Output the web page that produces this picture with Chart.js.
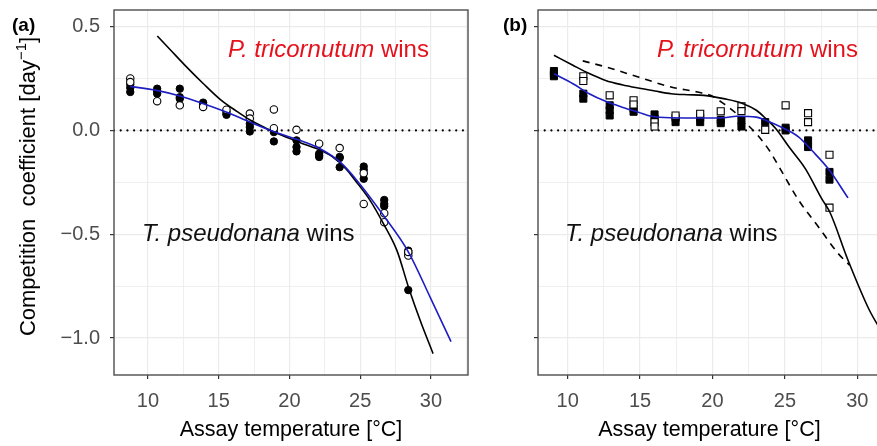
<!DOCTYPE html>
<html><head><meta charset="utf-8">
<script src="https://cdn.jsdelivr.net/npm/chart.js@4.4.0/dist/chart.umd.min.js"></script>
<style>
html,body{margin:0;padding:0;width:877px;height:446px;overflow:hidden;background:#fff;}
#wa{position:absolute;left:0;top:0;width:480px;height:446px;}
#wb{position:absolute;left:480px;top:0;width:407px;height:446px;}
</style></head><body>
<div id="wa"><canvas id="ca"></canvas></div>
<div id="wb"><canvas id="cb"></canvas></div>
<script>
// ---------- Panel (a) data ----------
const tempsA = [8.75, 10.65, 12.25, 13.9, 15.55, 17.2, 18.9, 20.5, 22.1, 23.55, 25.25, 26.7, 28.4];
const filledA = [[0.221,0.185,0.205],[0.201,0.177,0.19],[0.201,0.153,0.16],[0.134,0.125],[0.081,0.09,0.075],
  [0.032,0.016,-0.005],[-0.008,-0.053],[-0.048,-0.08,-0.101],[-0.112,-0.128,-0.12],[-0.128,-0.133,-0.177],
  [-0.174,-0.233,-0.19],[-0.335,-0.354,-0.365],[-0.579,-0.769,-0.59]];
const openA = [[0.25,0.233],[0.141],[0.121],[0.113],[0.1],[0.081,0.057],[0.101,0.011],[0.003],[-0.064],[-0.085],
  [-0.206,-0.354],[-0.399,-0.442],[-0.603,-0.585]];
const blackA_T = [10.66, 11.56, 12.74, 13.92, 15.1, 16.28, 17.22, 18.3, 19.5, 20.8, 22.0, 23.0, 24.0, 24.65, 25.71, 26.65, 27.6, 28.42, 29.25, 30.15];
const blackA_V = [0.455, 0.39, 0.305, 0.225, 0.15, 0.092, 0.05, 0.012, -0.025, -0.06, -0.09, -0.125, -0.185, -0.241, -0.338, -0.45, -0.579, -0.756, -0.917, -1.075];
const blueA_T = [8.73, 10.6, 12.26, 13.92, 15.57, 17.22, 18.87, 20.52, 22.17, 23.59, 24.77, 26.65, 28.42, 29.95, 31.42];
const blueA_V = [0.212, 0.193, 0.166, 0.129, 0.088, 0.04, -0.005, -0.043, -0.088, -0.153, -0.241, -0.41, -0.587, -0.804, -1.017];

// ---------- Panel (b) data ----------
const tempsB = [9.05, 11.08, 12.9, 14.55, 16.0, 17.45, 19.15, 20.57, 22.0, 23.64, 25.05, 26.6, 28.08];
const filledB = [[0.286,0.273,0.261],[0.177,0.153],[0.121,0.097,0.072],[0.105,0.09],[0.077,0.056],[0.061,0.04],
  [0.061,0.04],[0.05,0.035],[0.048,0.019],[0.04],[0.013,0.0],[-0.048,-0.08],[-0.2,-0.237]];
const openB = [[],[0.261,0.238],[0.169],[0.145,0.125],[0.04,0.019],[0.072],[0.08],[0.092],[0.116,0.093],[0.003],
  [0.121],[0.083,0.04],[-0.117,-0.372]];
const blackB_T = [9.05, 10.36, 11.49, 12.62, 13.75, 14.88, 16.02, 17.14, 18.28, 19.41, 20.77, 22.12, 23.03, 23.7, 24.38, 25.29, 26.42, 27.55, 28.1, 29.36, 30.83, 31.6];
const blackB_V = [0.362, 0.314, 0.274, 0.241, 0.22, 0.204, 0.19, 0.177, 0.172, 0.169, 0.153, 0.129, 0.097, 0.056, 0.008, -0.08, -0.185, -0.33, -0.393, -0.625, -0.865, -0.96];
const dashedB_T = [11.04, 12.62, 14.88, 17.14, 18.96, 19.86, 20.77, 21.67, 22.35, 23.03, 23.93, 24.61, 25.96, 27.32, 28.68, 29.47];
const dashedB_V = [0.335, 0.306, 0.257, 0.209, 0.185, 0.169, 0.129, 0.08, 0.032, -0.016, -0.097, -0.177, -0.337, -0.465, -0.593, -0.649];
const blueB_T = [9.05, 10.36, 11.49, 12.62, 13.75, 14.88, 15.79, 17.14, 19.41, 20.77, 21.67, 23.03, 23.7, 24.84, 25.96, 26.87, 28.0, 29.36];
const blueB_V = [0.273, 0.225, 0.177, 0.14, 0.112, 0.088, 0.068, 0.061, 0.06, 0.061, 0.068, 0.064, 0.048, 0.013, -0.032, -0.097, -0.185, -0.325];

// ---------- Axes ----------
const xTickValues = [7.5, 10, 12.5, 15, 17.5, 20, 22.5, 25, 27.5, 30, 32.5];
const yTickValues = [-1.0, -0.75, -0.5, -0.25, 0, 0.25, 0.5];
const xMajor = [10, 15, 20, 25, 30];
const yMajor = [-1.0, -0.5, 0, 0.5];
const xTitle = 'Assay temperature [°C]';
const yTitleMain = 'Competition  coefficient [day';
const yTitleSup = '\u22121';
const winP = ['P. tricornutum', ' wins'];
const winT = ['T. pseudonana', ' wins'];

const FONT = "'Liberation Sans', Arial, sans-serif";
const BLUE = '#1d1dc4';
const RED = '#e5121c';

function pts(temps, groups) {
  const out = [];
  temps.forEach((t, i) => groups[i].forEach(v => out.push({x: t, y: v})));
  return out;
}
function line(ts, vs) { return ts.map((t, i) => ({x: t, y: vs[i]})); }
function isMaj(arr, v) { return arr.some(m => Math.abs(m - v) < 1e-6); }

function drawItalicPair(ctx, pair, x, y, size, color) {
  ctx.save();
  ctx.fillStyle = color;
  ctx.textBaseline = 'alphabetic';
  ctx.textAlign = 'left';
  ctx.font = 'italic ' + size + 'px ' + FONT;
  ctx.fillText(pair[0], x, y);
  const w = ctx.measureText(pair[0]).width;
  ctx.font = size + 'px ' + FONT;
  ctx.fillText(pair[1], x + w, y);
  ctx.restore();
}

function makeChart(id, o) {
  const deco = {
    id: 'deco',
    afterDatasetsDraw(chart) {
      const a = chart.chartArea, ctx = chart.ctx;
      ctx.save();
      ctx.strokeStyle = '#4d4d4d';
      ctx.lineWidth = 1.4;
      ctx.strokeRect(a.left, a.top, a.right - a.left, a.bottom - a.top);
      ctx.restore();
    },
    afterDraw(chart) {
      const ctx = chart.ctx, a = chart.chartArea;
      ctx.save();
      ctx.fillStyle = '#000';
      ctx.font = '21.5px ' + FONT;
      ctx.textAlign = 'center';
      ctx.textBaseline = 'alphabetic';
      ctx.fillText(xTitle, (a.left + a.right) / 2, 436);
      ctx.font = 'bold 19px ' + FONT;
      ctx.textAlign = 'left';
      ctx.fillText(o.letter, o.letterX, 31);
      ctx.restore();
      drawItalicPair(ctx, winP, o.pX, 57, 24, RED);
      drawItalicPair(ctx, winT, o.tX, 241, 24, '#111');
      if (o.yTitle) {
        ctx.save();
        ctx.translate(35, 186.5);
        ctx.rotate(-Math.PI / 2);
        ctx.fillStyle = '#000';
        ctx.textBaseline = 'alphabetic';
        ctx.textAlign = 'left';
        const f1 = '22px ' + FONT, f2 = '15px ' + FONT;
        ctx.font = f1;
        const w1 = ctx.measureText(yTitleMain).width;
        const w3 = ctx.measureText(']').width;
        ctx.font = f2;
        const w2 = ctx.measureText(yTitleSup).width;
        const tot = w1 + w2 + w3;
        let x = -tot / 2;
        ctx.font = f1; ctx.fillText(yTitleMain, x, 0); x += w1;
        ctx.font = f2; ctx.fillText(yTitleSup, x, -9); x += w2;
        ctx.font = f1; ctx.fillText(']', x, 0);
        ctx.restore();
      }
    }
  };
  const shape = o.shape;
  const r = shape === 'rect' ? 5 : 3.7;
  const datasets = [
    {data: line(o.blueT, o.blueV), showLine: true, borderColor: BLUE, borderWidth: 1.6, pointRadius: 0,
     cubicInterpolationMode: 'monotone', order: 0},
    {data: line(o.blackT, o.blackV), showLine: true, borderColor: '#000', borderWidth: 1.6, pointRadius: 0,
     cubicInterpolationMode: 'monotone', order: 1},
  ];
  if (o.dashT) datasets.push({data: line(o.dashT, o.dashV), showLine: true, borderColor: '#000', borderWidth: 1.6,
     borderDash: [7, 6], pointRadius: 0, cubicInterpolationMode: 'monotone', order: 1});
  datasets.push(
    {data: pts(o.temps, o.open), pointStyle: shape, pointRadius: r, backgroundColor: '#fff', borderColor: '#000',
     borderWidth: 1.1, showLine: false, order: 2},
    {data: pts(o.temps, o.filled), pointStyle: shape, pointRadius: r, backgroundColor: '#000', borderColor: '#000',
     borderWidth: 1, showLine: false, order: 3},
    {data: [{x: o.xmin, y: 0}, {x: o.xmax, y: 0}], showLine: true, borderColor: '#000', borderWidth: 2.2,
     borderDash: [0.01, 6.7], borderCapStyle: 'round', pointRadius: 0, order: 4}
  );
  return new Chart(document.getElementById(id), {
    type: 'scatter',
    data: {datasets},
    options: {
      responsive: true, maintainAspectRatio: false, animation: false, devicePixelRatio: 1,
      layout: {padding: {left: 0, right: o.padRight, top: 10, bottom: 0}},
      plugins: {legend: {display: false}, tooltip: {enabled: false}},
      scales: {
        x: {
          type: 'linear', min: o.xmin, max: o.xmax,
          afterBuildTicks: s => { s.ticks = xTickValues.filter(v => v >= o.xmin && v <= o.xmax).map(v => ({value: v})); },
          afterFit: s => { s.height = 71; s.paddingLeft = 0; s.paddingRight = 0; },
          ticks: {autoSkip: false, maxRotation: 0, padding: 10, color: '#4d4d4d', font: {family: FONT, size: 20},
                  callback: v => isMaj(xMajor, v) ? String(v) : ''},
          grid: {color: '#ebebeb', lineWidth: c => isMaj(xMajor, c.tick.value) ? 1.2 : 0.8, tickLength: 4,
                 tickColor: c => isMaj(xMajor, c.tick.value) ? '#333' : 'rgba(0,0,0,0)', tickWidth: 1.2},
          border: {display: false}
        },
        y: {
          type: 'linear', min: -1.178, max: 0.58,
          afterBuildTicks: s => { s.ticks = yTickValues.map(v => ({value: v})); },
          afterFit: s => { s.width = o.yWidth; s.paddingTop = 0; s.paddingBottom = 0; },
          ticks: {autoSkip: false, padding: 10, color: '#4d4d4d', font: {family: FONT, size: 20},
                  callback: v => (o.yLabels && isMaj(yMajor, v)) ? v.toFixed(1).replace('-', '\u2212') : ''},
          grid: {color: '#ebebeb', lineWidth: c => isMaj(yMajor, c.tick.value) ? 1.2 : 0.8, tickLength: 4,
                 tickColor: c => isMaj(yMajor, c.tick.value) ? '#333' : 'rgba(0,0,0,0)', tickWidth: 1.2},
          border: {display: false}
        }
      }
    },
    plugins: [deco]
  });
}

makeChart('ca', {
  letter: '(a)', letterX: 12, pX: 228, tX: 142, yTitle: true, yLabels: true, yWidth: 114, padRight: 12,
  xmin: 7.6, xmax: 32.62, shape: 'circle',
  temps: tempsA, filled: filledA, open: openA,
  blackT: blackA_T, blackV: blackA_V, blueT: blueA_T, blueV: blueA_V
});
makeChart('cb', {
  letter: '(b)', letterX: 23, pX: 177, tX: 85, yTitle: false, yLabels: false, yWidth: 58, padRight: 0,
  xmin: 7.95, xmax: 31.63, shape: 'rect',
  temps: tempsB, filled: filledB, open: openB,
  blackT: blackB_T, blackV: blackB_V, blueT: blueB_T, blueV: blueB_V, dashT: dashedB_T, dashV: dashedB_V
});
</script>
</body></html>
